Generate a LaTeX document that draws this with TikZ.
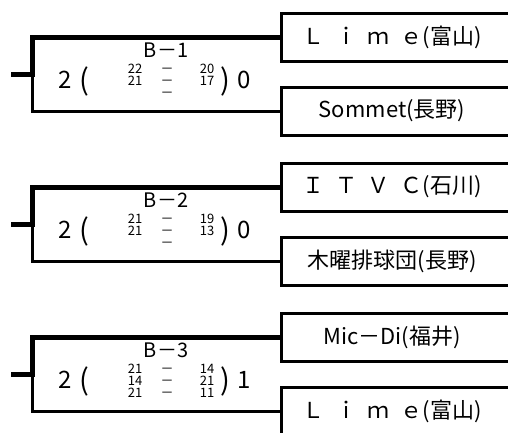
\documentclass[tikz,border=0pt]{standalone}
\usepackage{fontspec}
\setmainfont{Noto Sans CJK JP}[WordSpace=2.2]
\usetikzlibrary{calc}
\tikzstyle{teambox} = [draw, line width=3pt, minimum width=260pt, minimum height=48pt, anchor=west, inner sep=0pt, outer sep=0pt]
\tikzstyle{team} = [font=\fontsize{22}{22}\selectfont, inner sep=0pt]
\tikzstyle{winline} = [draw, line width=5pt]
\tikzstyle{loseline} = [draw, line width=3pt]
\tikzstyle{match} = [font=\fontsize{20}{20}\selectfont, inner sep=0pt]
\tikzstyle{score} = [font=\fontsize{24}{24}\selectfont, inner sep=0pt]
\tikzstyle{paren} = [font=\fontsize{29}{29}\selectfont, inner sep=0pt]
\tikzstyle{sets} = [font=\fontsize{13}{12}\selectfont, align=center, anchor=north, inner sep=0pt]

\begin{document}
\begin{tikzpicture}[x=1pt, y=-1pt]
    \useasboundingbox (0,0) rectangle (508,432);
    % one bracket per match: two teams, winner line drawn thick
    \foreach \y/\m/\wa/\wb/\ls/\rs/\a/\b in {
        0/1/2/0/{22\\21}/{20\\17}/{Ｌ ｉ ｍ ｅ(富山)}/{Sommet(長野)},
        150/2/2/0/{21\\21}/{19\\13}/{Ｉ Ｔ Ｖ Ｃ(石川)}/{木曜排球団(長野)},
        300/3/2/1/{21\\14\\21}/{14\\21\\11}/{Mic－Di(福井)}/{Ｌ ｉ ｍ ｅ(富山)}}
    {
        % First the team boxes
        \node[teambox] (top\m) at (281,{37+\y}) {};
        \node[teambox] (bot\m) at (281,{111+\y}) {};
        \node[team] (na\m) at ([xshift=111pt]top\m.west) {\a};
        \node[team] (nb\m) at ([xshift=111pt]bot\m.west) {\b};

        % Connect them to the bracket
        \coordinate (stub\m) at (11,{74+\y});
        \coordinate (joint\m) at (32.5,{74+\y});
        \path[winline] (stub\m) -- (joint\m) |- (top\m.west);
        \path[loseline] (joint\m) |- (bot\m.west);

        % match name and score
        \node[match] (match\m) at (166,{50+\y}) {B－\m};
        \node[score] (wa\m) at (65,{80+\y}) {\wa};
        \node[paren] (lp\m) at (84,{81+\y}) {(};
        \node[sets] (ls\m) at (135,{64+\y}) {\ls};
        \node[sets] (dash\m) at (167,{64+\y}) {\vphantom{2}－\\－\\－};
        \node[sets] (rs\m) at (207,{64+\y}) {\rs};
        \node[paren] (rp\m) at (225,{81+\y}) {)};
        \node[score] (wb\m) at (244,{80+\y}) {\wb};
    }
\end{tikzpicture}
\end{document}
